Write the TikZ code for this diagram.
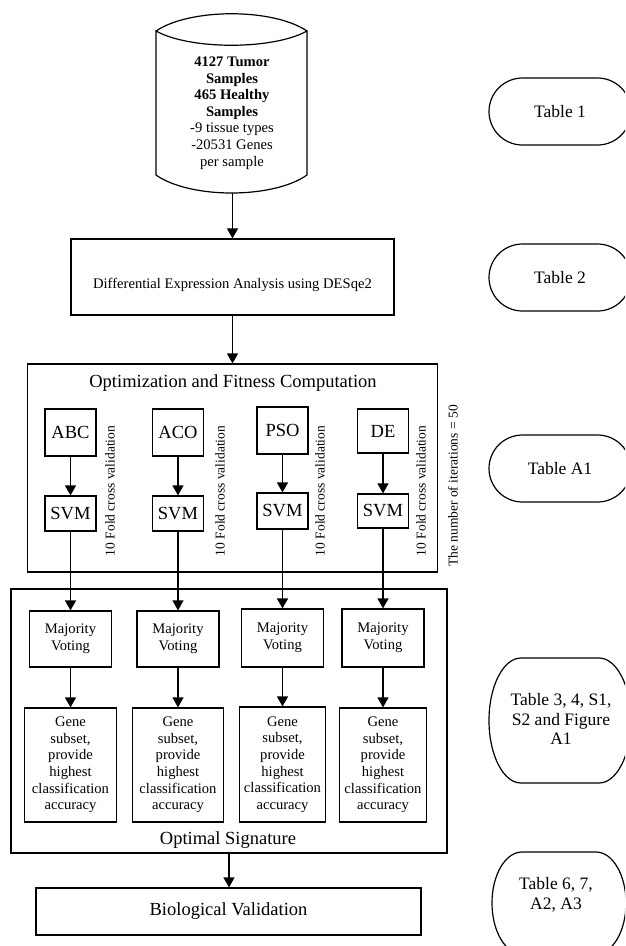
\documentclass[tikz,border=0pt]{standalone}
\usepackage{fontspec}
\setmainfont{Liberation Serif}
\usetikzlibrary{arrows.meta}
\newcommand{\pillshape}[5]{% cx cy halfw halfh rx
  \draw[pill] ({#1-#3+#5},{#2-#4}) -- ({#1+#3-#5},{#2-#4})
    .. controls ({#1+#3-#5+0.5523*#5},{#2-#4}) and ({#1+#3},{#2-0.5523*#4}) .. ({#1+#3},{#2})
    .. controls ({#1+#3},{#2+0.5523*#4}) and ({#1+#3-#5+0.5523*#5},{#2+#4}) .. ({#1+#3-#5},{#2+#4})
    -- ({#1-#3+#5},{#2+#4})
    .. controls ({#1-#3+#5-0.5523*#5},{#2+#4}) and ({#1-#3},{#2+0.5523*#4}) .. ({#1-#3},{#2})
    .. controls ({#1-#3},{#2-0.5523*#4}) and ({#1-#3+#5-0.5523*#5},{#2-#4}) .. cycle;}
\begin{document}
\begin{tikzpicture}[x=1pt,y=-1pt, line width=1.2pt,
  box/.style={draw, line width=1.2pt, inner sep=0pt, align=center},
  arr/.style={-{Triangle[length=10pt,width=11pt]}, line width=1.2pt},
  fs/.style={font=\fontsize{14.6}{16.6}\selectfont, align=center},
  fl/.style={font=\fontsize{18.5}{21}\selectfont},
  fr/.style={font=\fontsize{13.5}{16}\selectfont, rotate=90},
  fp/.style={font=\fontsize{17.5}{19.5}\selectfont, align=center},
  pill/.style={draw, line width=1.2pt}]
\clip (0,0) rectangle (625,946);
\fill[white] (0,0) rectangle (625,946);

% cylinder
\draw (156,31) .. controls (190,8) and (273,8) .. (307,31)
  .. controls (273,50) and (190,50) .. (156,31) -- (156,175)
  .. controls (190,199) and (273,199) .. (307,175) -- (307,31);
\coordinate (cylbot) at (232.5,193);
\node[fs] (cyltext) at (232,113) {\textbf{4127 Tumor}\\\textbf{Samples}\\\textbf{465 Healthy}\\\textbf{Samples}\\-9 tissue types\\-20531 Genes\\per sample};

% differential expression
\node[box, minimum width=323pt, minimum height=76pt] (diff) at (232.5,277) {};
\node[fs] (difftext) at (232.5,285) {Differential Expression Analysis using DESqe2};
\draw[arr] (cylbot) -- (diff.north);

% optimization box
\node[box, minimum width=410pt, minimum height=208pt] (opt) at (232.5,468) {};
\node[fl] (opttitle) at (233,383) {Optimization and Fitness Computation};
\draw[arr] (diff.south) -- (opt.north);

\node[box, fl, minimum width=51pt, minimum height=47pt] (abc) at (70.5,432.5) {ABC};
\node[box, fl, minimum width=51pt, minimum height=35pt] (svm1) at (70.5,513.5) {SVM};
\node[box, fl, minimum width=51pt, minimum height=47pt] (aco) at (178,432.5) {ACO};
\node[box, fl, minimum width=51pt, minimum height=35pt] (svm2) at (178,513.5) {SVM};
\node[box, fl, minimum width=51pt, minimum height=47pt] (pso) at (282.5,430.5) {PSO};
\node[box, fl, minimum width=51pt, minimum height=36pt] (svm3) at (282.5,511) {SVM};
\node[box, fl, minimum width=51pt, minimum height=44pt] (de) at (383,431) {DE};
\node[box, fl, minimum width=51pt, minimum height=34pt] (svm4) at (383,511) {SVM};

\draw[arr] (abc) -- (svm1);
\draw[arr] (aco) -- (svm2);
\draw[arr] (pso) -- (svm3);
\draw[arr] (de) -- (svm4);

\node[fr] (cv1) at (110,491) {10 Fold cross validation};
\node[fr] (cv2) at (220,491) {10 Fold cross validation};
\node[fr] (cv3) at (320,491) {10 Fold cross validation};
\node[fr] (cv4) at (421,491) {10 Fold cross validation};
\node[fr] (iter) at (453,486) {The number of iterations = 50};

% optimal signature box
\node[box, minimum width=436pt, minimum height=264pt] (sig) at (229,721) {};
\node[fl] (sigtitle) at (228,840) {Optimal Signature};

\node[box, fs, minimum width=82pt, minimum height=56pt] (mv1) at (70.5,639) {Majority\\Voting};
\node[box, fs, minimum width=82pt, minimum height=56pt] (mv2) at (178,639) {Majority\\Voting};
\node[box, fs, minimum width=82pt, minimum height=58pt] (mv3) at (282.5,638) {Majority\\Voting};
\node[box, fs, minimum width=82pt, minimum height=58pt] (mv4) at (383,638) {Majority\\Voting};

\node[box, fs, minimum width=92pt, minimum height=114pt] (g1) at (70.5,765) {Gene\\subset,\\provide\\highest\\classification\\accuracy};
\node[box, fs, minimum width=91pt, minimum height=114pt] (g2) at (178,765) {Gene\\subset,\\provide\\highest\\classification\\accuracy};
\node[box, fs, minimum width=86pt, minimum height=115pt] (g3) at (282.5,764.5) {Gene\\subset,\\provide\\highest\\classification\\accuracy};
\node[box, fs, minimum width=87pt, minimum height=114pt] (g4) at (383,765) {Gene\\subset,\\provide\\highest\\classification\\accuracy};

\draw[arr] (svm1) -- (mv1);
\draw[arr] (svm2) -- (mv2);
\draw[arr] (svm3) -- (mv3);
\draw[arr] (svm4) -- (mv4);
\draw[arr] (mv1) -- (g1);
\draw[arr] (mv2) -- (g2);
\draw[arr] (mv3) -- (g3);
\draw[arr] (mv4) -- (g4);

% biological validation
\node[box, fl, minimum width=385pt, minimum height=47pt] (bio) at (228.5,911.5) {Biological Validation};
\draw[arr] (sig.south) -- (sig.south |- bio.north);

% right column
\pillshape{560}{111.5}{71}{33.5}{33.5}
\node[fp] (t1) at (560,111.5) {Table 1};
\pillshape{560}{277.5}{71}{33.5}{33.5}
\node[fp] (t2) at (560,277.5) {Table 2};
\pillshape{560}{468.5}{71}{33.5}{33.5}
\node[fp] (ta1) at (560,468.5) {Table A1};
\pillshape{560}{720.5}{71}{62.5}{32}
\node[fp] (t3) at (561,719) {Table 3, 4, S1,\\S2 and Figure\\A1};
\pillshape{559}{903}{67}{51}{30}
\node[fp] (t6) at (556,895) {Table 6, 7,\\A2, A3};
\end{tikzpicture}
\end{document}
